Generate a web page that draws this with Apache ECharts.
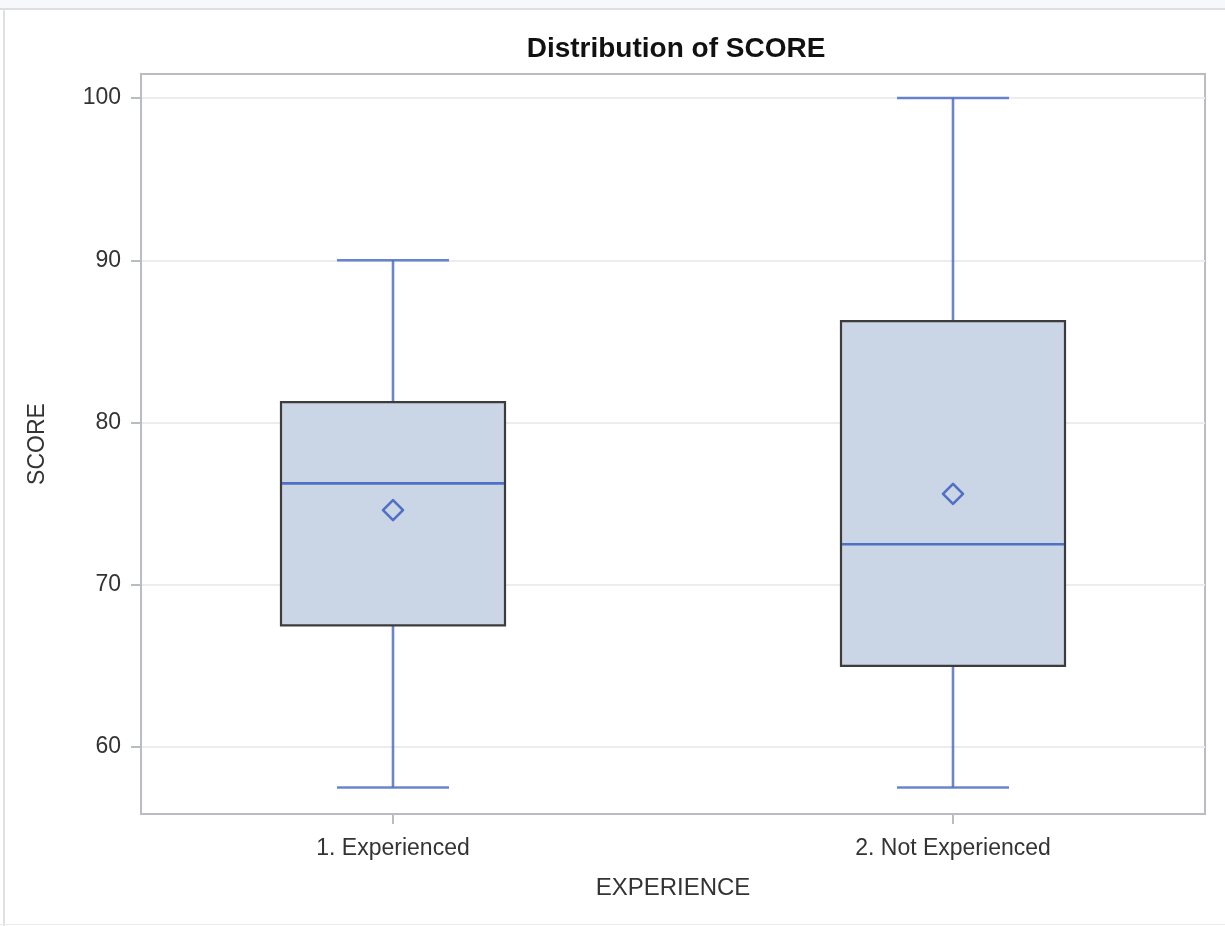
<!DOCTYPE html>
<html>
<head>
<meta charset="utf-8">
<title>Distribution of SCORE</title>
<script src="https://cdn.jsdelivr.net/npm/echarts@6/dist/echarts.min.js"></script>
<style>
  html, body { margin: 0; padding: 0; background: #ffffff; }
  #topStrip { position: absolute; left: 0; top: 0; width: 1225px; height: 8px; background: #f6f8fc; border-bottom: 2px solid #dcdee0; }
  #leftEdge { position: absolute; left: 3px; top: 9px; width: 2px; height: 917px; background: #dfe1e3; }
  #bottomEdge { position: absolute; left: 0; top: 924px; width: 1225px; height: 1px; background: #e8eaec; }
  #chart { position: absolute; left: 0; top: 0; width: 1225px; height: 926px; }
</style>
</head>
<body>
<div id="topStrip"></div>
<div id="leftEdge"></div>
<div id="bottomEdge"></div>
<div id="chart"></div>
<script>
// Five-number summaries and means of SCORE by EXPERIENCE group
const categories = ['1. Experienced', '2. Not Experienced'];
const minValues    = [57.5, 57.5];
const q1Values     = [67.5, 65.0];
const medianValues = [76.25, 72.5];
const q3Values     = [81.25, 86.25];
const maxValues    = [90, 100];
const meanValues   = [74.6, 75.6];
const yTicks = [60, 70, 80, 90, 100];

// Box and whisker-cap widths in x-axis units (groups sit at 1, 2, ...)
const BOX_WIDTH = 0.4;
const CAP_WIDTH = 0.2;

const FONT = '"Liberation Sans", Arial, sans-serif';
const LINE_BLUE = '#4f70c4';
const BOX_FILL = '#cad5e5';
const BOX_EDGE = '#3c3c3c';

const boxData = categories.map((c, i) => [
  i + 1, minValues[i], q1Values[i], medianValues[i], q3Values[i], maxValues[i], meanValues[i]
]);

function renderBox(params, api) {
  const x = api.value(0);
  const lo = api.coord([x, api.value(1)]);
  const q1 = api.coord([x, api.value(2)]);
  const med = api.coord([x, api.value(3)]);
  const q3 = api.coord([x, api.value(4)]);
  const hi = api.coord([x, api.value(5)]);
  const mean = api.coord([x, api.value(6)]);
  const halfBox = api.size([BOX_WIDTH, 0])[0] / 2;
  const halfCap = api.size([CAP_WIDTH, 0])[0] / 2;
  const cx = lo[0];
  const whiskerStyle = { stroke: LINE_BLUE, lineWidth: 2.6, opacity: 0.85 };
  const d = 10;
  return {
    type: 'group',
    children: [
      { type: 'line', shape: { x1: cx, y1: hi[1], x2: cx, y2: q3[1] }, style: whiskerStyle },
      { type: 'line', shape: { x1: cx, y1: q1[1], x2: cx, y2: lo[1] }, style: whiskerStyle },
      { type: 'line', shape: { x1: cx - halfCap, y1: hi[1], x2: cx + halfCap, y2: hi[1] }, style: whiskerStyle },
      { type: 'line', shape: { x1: cx - halfCap, y1: lo[1], x2: cx + halfCap, y2: lo[1] }, style: whiskerStyle },
      {
        type: 'rect',
        shape: { x: cx - halfBox, y: q3[1], width: halfBox * 2, height: q1[1] - q3[1] },
        style: { fill: BOX_FILL, stroke: BOX_EDGE, lineWidth: 2.2 }
      },
      {
        type: 'line',
        shape: { x1: cx - halfBox + 1, y1: med[1], x2: cx + halfBox - 1, y2: med[1] },
        style: { stroke: LINE_BLUE, lineWidth: 2.6 }
      },
      {
        type: 'polygon',
        shape: { points: [[mean[0], mean[1] - d], [mean[0] + d, mean[1]], [mean[0], mean[1] + d], [mean[0] - d, mean[1]]] },
        style: { fill: 'none', stroke: LINE_BLUE, lineWidth: 2.6, lineJoin: 'round' }
      }
    ]
  };
}

const chart = echarts.init(document.getElementById('chart'), null, { renderer: 'canvas' });
chart.setOption({
  backgroundColor: 'transparent',
  animation: false,
  title: {
    text: 'Distribution of SCORE',
    left: 671,
    textAlign: 'center',
    top: 30,
    textStyle: { fontFamily: FONT, fontSize: 28, fontWeight: 'bold', color: '#111111' }
  },
  grid: {
    left: 141, right: 20, top: 74, bottom: 112,
    show: true, borderColor: '#b9bdc1', borderWidth: 2, backgroundColor: 'transparent'
  },
  xAxis: {
    type: 'value',
    min: 0.55,
    max: 2.45,
    name: 'EXPERIENCE',
    nameLocation: 'middle',
    nameGap: 62,
    nameTextStyle: { fontFamily: FONT, fontSize: 24, color: '#333333' },
    axisLine: { show: true, lineStyle: { color: '#b9bdc1', width: 2 } },
    axisTick: { show: true, length: 10, customValues: categories.map((c, i) => i + 1), lineStyle: { color: '#b9bdc1', width: 2 } },
    axisLabel: {
      customValues: categories.map((c, i) => i + 1),
      formatter: v => categories[Math.round(v) - 1] || '',
      margin: 23,
      fontFamily: FONT, fontSize: 23, color: '#333333'
    },
    splitLine: { show: false }
  },
  yAxis: {
    type: 'value',
    min: 55.87,
    max: 101.48,
    name: 'SCORE',
    nameLocation: 'middle',
    nameGap: 92,
    nameTextStyle: { fontFamily: FONT, fontSize: 23, color: '#333333' },
    axisLine: { show: true, lineStyle: { color: '#b9bdc1', width: 2 } },
    axisTick: { show: true, length: 10, customValues: yTicks, lineStyle: { color: '#b9bdc1', width: 2 } },
    axisLabel: { customValues: yTicks, margin: 20, fontFamily: FONT, fontSize: 23, color: '#333333' },
    splitLine: { show: true, lineStyle: { color: '#ececec', width: 2 } }
  },
  series: [{
    type: 'custom',
    name: 'SCORE',
    renderItem: renderBox,
    encode: { x: 0, y: [1, 2, 3, 4, 5, 6] },
    data: boxData,
    clip: false
  }]
});
</script>
</body>
</html>
